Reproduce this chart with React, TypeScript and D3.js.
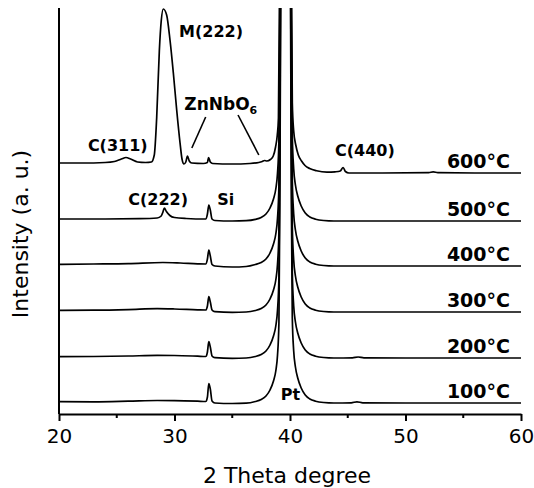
import { useEffect, useRef } from "react";
import * as d3 from "d3";

// 2 theta (deg) vs intensity (a.u.); each trace relative to its own offset
const trace100: [number, number][] = [
  [20, 1.3], [23, 1.2], [26, 1.8], [28.5, 2.5], [30, 2.4], [32, 1.8], [32.7, 1.5],
  [32.85, 6], [32.97, 19.5], [33.1, 14], [33.25, 2], [33.5, 0], [35, -0.5], [36.2, -0.2],
  [37.0, 1.5], [37.5, 3.5], [37.92, 7], [38.27, 13], [38.57, 22], [38.77, 32], [38.92, 48],
  [39.04, 80], [39.12, 200], [39.2, 420], [39.32, 700], [39.62, 800], [39.92, 700],
  [40.04, 420], [40.12, 200], [40.2, 85], [40.32, 52], [40.47, 36], [40.67, 25], [40.97, 15],
  [41.32, 8], [41.72, 4], [42.22, 1.8], [42.92, 0.5], [43.8, 0], [45.3, 0.2], [45.8, 1.2],
  [46.3, 0.2], [50, 0], [60, 0],
];
const trace200: [number, number][] = [
  [20, 1.3], [23, 1.5], [26, 2], [28.5, 2.6], [30, 2.5], [32, 1.8], [32.7, 1.5],
  [32.85, 6], [32.97, 16.3], [33.1, 11], [33.25, 2], [33.5, 0.3], [35, -0.3], [36.2, 0],
  [37.0, 1.5], [37.5, 3.5], [37.92, 7], [38.27, 13], [38.57, 22], [38.77, 32], [38.92, 48],
  [39.04, 80], [39.12, 200], [39.2, 420], [39.32, 700], [39.62, 800], [39.92, 700],
  [40.04, 420], [40.12, 200], [40.2, 85], [40.32, 52], [40.47, 36], [40.67, 25], [40.97, 15],
  [41.32, 8], [41.72, 4], [42.22, 1.8], [42.92, 0.5], [43.8, 0], [45.4, 0.2], [45.9, 1],
  [46.4, 0.2], [50, 0], [60, 0],
];
const trace300: [number, number][] = [
  [20, 1.7], [23, 1.8], [26, 2.4], [28.5, 3.3], [30, 3], [32, 2.2], [32.7, 2],
  [32.85, 6], [32.97, 15.3], [33.1, 10], [33.25, 2], [33.5, 0.3], [35, -0.3], [36.2, 0],
  [37.0, 1.5], [37.5, 3.5], [37.92, 7], [38.27, 13], [38.57, 22], [38.77, 32], [38.92, 48],
  [39.04, 80], [39.12, 200], [39.2, 420], [39.32, 700], [39.62, 800], [39.92, 700],
  [40.04, 420], [40.12, 200], [40.2, 85], [40.32, 52], [40.47, 36], [40.67, 25], [40.97, 15],
  [41.32, 8], [41.72, 4], [42.22, 1.8], [42.92, 0.5], [43.8, 0], [60, 0],
];
const trace400: [number, number][] = [
  [20, 1.7], [23, 2], [26, 2.4], [29, 3.5], [30.5, 3], [32, 2.2], [32.7, 2],
  [32.85, 7], [32.97, 16], [33.1, 10], [33.25, 1.5], [33.5, 0], [35, -1], [36.2, -0.5],
  [37.0, 1.5], [37.5, 3.5], [37.92, 7], [38.27, 13], [38.57, 22], [38.77, 32], [38.92, 48],
  [39.04, 80], [39.12, 200], [39.2, 420], [39.32, 700], [39.62, 800], [39.92, 700],
  [40.04, 420], [40.12, 200], [40.2, 85], [40.32, 52], [40.47, 36], [40.67, 25], [40.97, 15],
  [41.32, 8], [41.72, 4], [42.22, 1.8], [42.92, 0.5], [43.8, 0], [60, 0],
];
const trace500: [number, number][] = [
  [20, 2], [24, 2], [27, 2.3], [28.5, 3], [28.85, 5], [29.0, 9], [29.12, 13], [29.3, 9.5],
  [29.6, 5.5], [30.0, 3.5], [31, 2.5], [32.7, 2], [32.85, 7], [32.97, 16], [33.1, 11],
  [33.25, 2], [33.5, 0.5], [35, 0], [36.2, 0.3],
  [37.0, 1.6], [37.5, 3.5], [37.92, 7], [38.27, 13], [38.57, 22], [38.77, 32], [38.92, 48],
  [39.04, 80], [39.12, 200], [39.2, 420], [39.32, 700], [39.62, 800], [39.92, 700],
  [40.04, 420], [40.12, 200], [40.2, 85], [40.32, 52], [40.47, 36], [40.67, 25], [40.97, 15],
  [41.32, 8], [41.72, 4], [42.22, 1.8], [42.92, 0.5], [43.8, 0], [60, 0],
];
const trace600: [number, number][] = [
  [20, 10], [22, 10], [24, 10.5], [24.8, 11.5], [25.4, 14], [25.8, 15.5], [26.2, 14],
  [26.8, 11], [27.5, 10.5], [28.0, 11], [28.25, 18], [28.46, 56], [28.69, 123], [28.85, 152],
  [29.03, 164], [29.32, 158], [29.61, 133], [29.9, 100], [30.19, 63], [30.48, 30], [30.65, 14],
  [30.82, 9], [30.98, 11], [31.12, 17], [31.28, 12], [31.49, 10], [32.5, 9.5], [32.85, 10.5],
  [32.95, 15.5], [33.1, 11], [33.3, 9.5], [35, 9], [36.5, 9.5], [37.3, 10.5], [37.6, 11.5],
  [37.8, 12.5], [38.0, 12], [38.3, 13.5], [38.55, 17], [38.75, 26], [38.9, 38], [39.0, 55],
  [39.1, 200], [39.2, 420], [39.32, 700], [39.62, 800], [39.92, 700], [40.04, 420],
  [40.12, 200], [40.2, 70], [40.32, 42], [40.5, 28], [40.72, 18], [41.0, 12], [41.3, 7.5],
  [41.7, 4.5], [42.3, 2.2], [43.2, 0.8], [43.9, 1.2], [44.35, 2], [44.6, 5.5], [44.8, 1.5],
  [45.1, 0], [48, 0], [52, 0.3], [52.4, 1.2], [52.8, 0.3], [56, 0], [60, 0],
];

const traces = [trace100, trace200, trace300, trace400, trace500, trace600];
const temperatures = ["100°C", "200°C", "300°C", "400°C", "500°C", "600°C"];
const offsets = [11, 56, 102, 148, 193, 241];

const majorTicks = [20, 30, 40, 50, 60];
const minorTicks = [25, 35, 45, 55];

// peak annotations: [label, 2theta, intensity above axis]
const peakLabels: [string, number, number][] = [
  ["M(222)", 30.4, 377],
  ["C(311)", 22.5, 263],
  ["C(222)", 26.0, 209],
  ["Si", 33.7, 209],
  ["C(440)", 43.9, 258],
  ["Pt", 39.2, 14],
];

const App = () => {
  const svgRef = useRef(null);

  useEffect(() => {
    const WIDTH = 534;
    const HEIGHT = 488;
    const MARGINS = { top: 8, right: 13, bottom: 74, left: 59 };

    const x = d3.scaleLinear().domain([20, 60]).range([MARGINS.left, WIDTH - MARGINS.right]);
    const y = d3.scaleLinear().domain([0, 406]).range([HEIGHT - MARGINS.bottom, MARGINS.top]);

    const svg = d3.select(svgRef.current).attr("width", WIDTH).attr("height", HEIGHT);
    svg.selectAll("*").remove();

    svg.append("rect").attr("width", WIDTH).attr("height", HEIGHT).attr("fill", "#fff");

    svg
      .append("clipPath")
      .attr("id", "plot-clip")
      .append("rect")
      .attr("x", x(20))
      .attr("y", y(406))
      .attr("width", x(60) - x(20) + 1)
      .attr("height", y(0) - y(406));

    const plot = svg.append("g").attr("clip-path", "url(#plot-clip)");

    traces.forEach((trace, i) => {
      const line = d3
        .line<[number, number]>()
        .x((d) => x(d[0]))
        .y((d) => y(d[1] + offsets[i]))
        .curve(d3.curveMonotoneX);
      plot
        .append("path")
        .attr("d", line(trace))
        .attr("fill", "none")
        .attr("stroke", "#000")
        .attr("stroke-width", 1.7)
        .attr("stroke-linejoin", "round");
    });

    // axes: left and bottom only
    const axisG = svg.append("g").attr("transform", `translate(0,${y(0)})`);
    axisG
      .call(d3.axisBottom(x).tickValues(majorTicks).tickSize(7).tickSizeOuter(0).tickFormat(d3.format("d")))
      .call((g) => g.select(".domain").attr("stroke-width", 2))
      .call((g) => g.selectAll(".tick line").attr("stroke-width", 2))
      .call((g) =>
        g
          .selectAll(".tick text")
          .attr("font-family", "DejaVu Sans, sans-serif")
          .attr("font-size", 20)
          .attr("fill", "#000")
          .attr("dy", "0.95em")
      );
    axisG
      .selectAll(".minor")
      .data(minorTicks)
      .enter()
      .append("line")
      .attr("x1", (d) => x(d))
      .attr("x2", (d) => x(d))
      .attr("y1", 0)
      .attr("y2", 4)
      .attr("stroke", "#000")
      .attr("stroke-width", 2);

    svg
      .append("line")
      .attr("x1", x(20))
      .attr("x2", x(20))
      .attr("y1", y(406))
      .attr("y2", y(0))
      .attr("stroke", "#000")
      .attr("stroke-width", 2);

    svg
      .append("text")
      .text("2 Theta degree")
      .attr("x", 287)
      .attr("y", 483)
      .attr("text-anchor", "middle")
      .attr("font-family", "DejaVu Sans, sans-serif")
      .attr("font-size", 22);

    svg
      .append("text")
      .text("Intensity (a. u.)")
      .attr("transform", "translate(28,234) rotate(-90)")
      .attr("text-anchor", "middle")
      .attr("font-family", "DejaVu Sans, sans-serif")
      .attr("font-size", 22);

    // temperature labels at the right end of each trace
    svg
      .selectAll(".temp")
      .data(temperatures)
      .enter()
      .append("text")
      .text((d) => d)
      .attr("x", 510)
      .attr("y", (d, i) => y(offsets[i]) - 5)
      .attr("text-anchor", "end")
      .attr("font-family", "DejaVu Sans, sans-serif")
      .attr("font-weight", "bold")
      .attr("font-size", 19);

    svg
      .selectAll(".peak")
      .data(peakLabels)
      .enter()
      .append("text")
      .text((d) => d[0])
      .attr("x", (d) => x(d[1]))
      .attr("y", (d) => y(d[2]))
      .attr("font-family", "DejaVu Sans, sans-serif")
      .attr("font-weight", "bold")
      .attr("font-size", 16);

    const zn = svg
      .append("text")
      .attr("x", x(30.85))
      .attr("y", y(304))
      .attr("font-family", "DejaVu Sans, sans-serif")
      .attr("font-weight", "bold")
      .attr("font-size", 17);
    zn.append("tspan").text("ZnNbO");
    zn.append("tspan").text("6").attr("font-size", 11).attr("dy", 4);

    // leader lines from ZnNbO6 to its two peaks
    const leaders: [number, number, number, number][] = [
      [32.7, 297, 31.5, 266],
      [35.5, 299, 37.3, 259],
    ];
    svg
      .selectAll(".leader")
      .data(leaders)
      .enter()
      .append("line")
      .attr("x1", (d) => x(d[0]))
      .attr("y1", (d) => y(d[1]))
      .attr("x2", (d) => x(d[2]))
      .attr("y2", (d) => y(d[3]))
      .attr("stroke", "#000")
      .attr("stroke-width", 1.6);
  }, []);

  return (
    <div style={{ position: "absolute", left: 0, top: 0 }}>
      <svg ref={svgRef} style={{ display: "block" }} />
    </div>
  );
};

export default App;
